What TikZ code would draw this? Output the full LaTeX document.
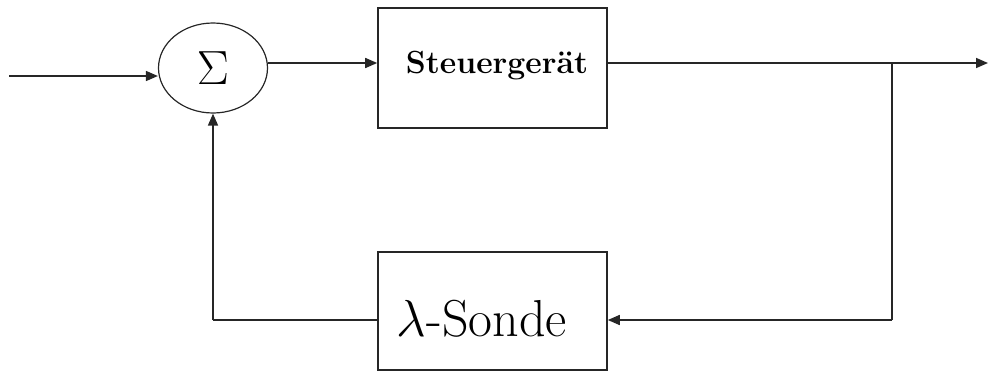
\RequirePackage{fix-cm}
\documentclass[tikz,border=0pt]{standalone}
\usepackage{fontspec}
\usetikzlibrary{arrows.meta,shapes.geometric}
\begin{document}
\begin{tikzpicture}[x=1pt,y=-1pt,
  line/.style={draw=black!85,line width=1.6pt},
  arr/.style={line,-{Triangle[length=12pt,width=10pt]}},
  blockbox/.style={draw=black!85,line width=1.6pt,rectangle,minimum width=229pt,inner sep=0pt},
  sumnode/.style={draw=black!85,line width=1.2pt,ellipse,minimum width=109pt,minimum height=90pt,inner sep=0pt}
]
\useasboundingbox (0,0) rectangle (990,370);
\node[sumnode] (sum) at (213,68) {\fontsize{48}{50}\selectfont $\Sigma$};
\node[blockbox,minimum height=120pt] (steuer) at (492.5,68) {};
\node (steuertext) at (497,66) {\fontsize{32}{35}\selectfont\bfseries Steuergerät};
\node[blockbox,minimum height=118pt] (sonde) at (492.5,311) {};
\node (sondetext) at (482,319) {\fontsize{52}{55}\selectfont $\lambda$-Sonde};
\coordinate (in) at (9,76);
\coordinate (out) at (988,63);
\coordinate (j) at (892,63);
\coordinate (jd) at (892,320);
\coordinate (fb) at (213,320);
\draw[arr] (in) -- (sum.west |- in);
\draw[arr] ([yshift=5pt]sum.east) -- ([yshift=5pt]steuer.west);
\draw[arr] ([yshift=5pt]steuer.east) -- (out);
\draw[line] (j) -- (jd);
\draw[arr] (jd) -- (sonde.east |- jd);
\draw[line] (sonde.west |- fb) -- (fb);
\draw[arr] (fb) -- (sum.south);
\end{tikzpicture}
\end{document}
